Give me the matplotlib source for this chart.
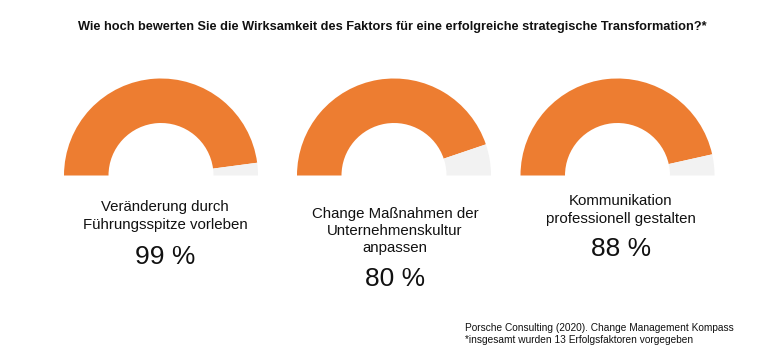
import matplotlib.pyplot as plt
from matplotlib.patches import Wedge

# Daten
title = "Wie hoch bewerten Sie die Wirksamkeit des Faktors für eine erfolgreiche strategische Transformation?*"
labels = [
    "Veränderung durch\nFührungsspitze vorleben",
    "Change Maßnahmen der\nUnternehmenskultur\nanpassen",
    "Kommunikation\nprofessionell gestalten",
]
values = [99, 80, 88]
# Anteil des Halbkreises, der orange gefüllt ist
gauge_fill = [0.958, 0.896, 0.93]
source = "Porsche Consulting (2020). Change Management Kompass\n*insgesamt wurden 13 Erfolgsfaktoren vorgegeben"

orange = "#ed7d31"
grey = "#f2f2f2"
text_color = "#111111"

plt.rcParams["font.family"] = ["Liberation Sans", "DejaVu Sans"]

fig = plt.figure(figsize=(7.8, 3.5), dpi=100)
ax = fig.add_axes([0, 0, 1, 1])
ax.set_xlim(0, 780)
ax.set_ylim(350, 0)
ax.set_aspect("equal")
ax.axis("off")

# Layout je Gauge (Pixel): Mittelpunkt, Textmitte, Label-Mitte y, Wert y
centers = [161, 394, 617.5]
text_x = [165, 395, 621]
base_y = 175.5
r_out, r_in = 97, 52.5
label_y = [216, 231, 210]
value_y = [257, 279, 249]

for cx, tx, lab, val, frac, ly, vy in zip(centers, text_x, labels, values,
                                          gauge_fill, label_y, value_y):
    # y-Achse ist invertiert: Winkel laufen im Uhrzeigersinn
    split = 180 - 180 * frac
    ax.add_patch(Wedge((cx, base_y), r_out, 180, 360 - split, width=r_out - r_in,
                       facecolor=orange, edgecolor="none"))
    ax.add_patch(Wedge((cx, base_y), r_out, 360 - split, 360, width=r_out - r_in,
                       facecolor=grey, edgecolor="none"))
    ax.text(tx, ly, lab, ha="center", va="center", fontsize=10.8,
            linespacing=1.3, color=text_color)
    ax.text(tx, vy, f"{val} %", ha="center", va="center", fontsize=19,
            color=text_color)

ax.text(392, 27, title, ha="center", va="center", fontsize=9.15, fontweight="bold",
        color=text_color)
ax.text(465, 334, source, ha="left", va="center", fontsize=7.3,
        linespacing=1.2, color=text_color)

fig.savefig("out.png", dpi=100)
